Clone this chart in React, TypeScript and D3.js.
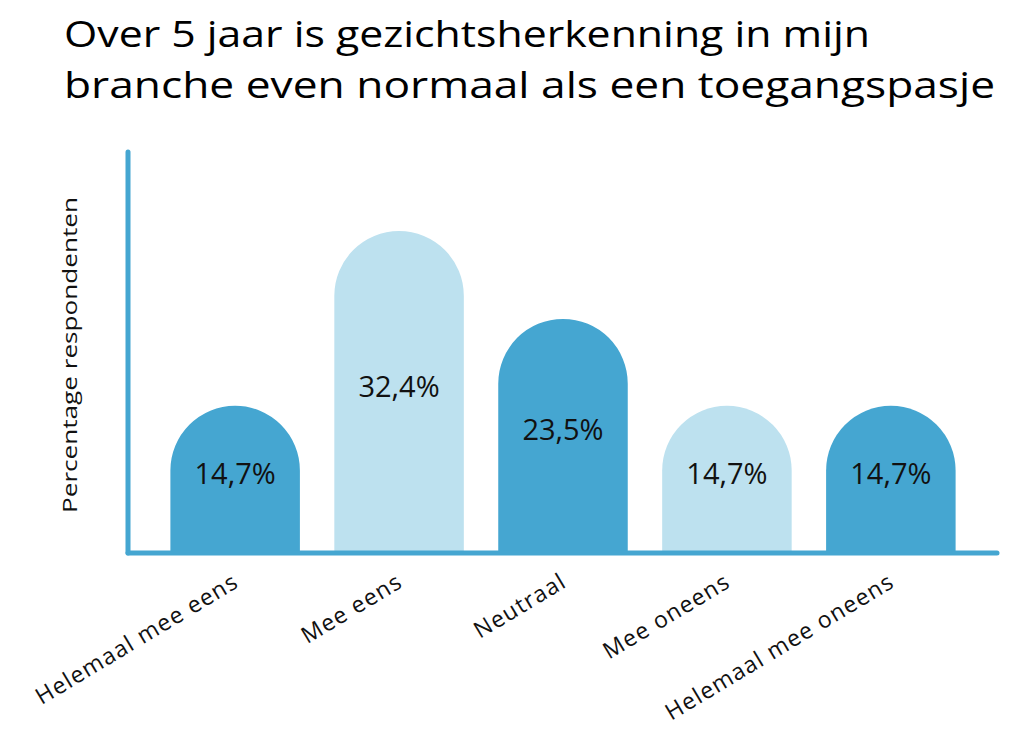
import React from "react";
import * as d3 from "d3";

const categories = ["Helemaal mee eens", "Mee eens", "Neutraal", "Mee oneens", "Helemaal mee oneens"];
const values = [14.7, 32.4, 23.5, 14.7, 14.7];
const valueLabels = ["14,7%", "32,4%", "23,5%", "14,7%", "14,7%"];
const barColors = ["#45A6D1", "#BDE1EF", "#45A6D1", "#BDE1EF", "#45A6D1"];
const titleLines = [
  "Over 5 jaar is gezichtsherkenning in mijn",
  "branche even normaal als een toegangspasje",
];
const yAxisTitle = "Percentage respondenten";

const W = 1024;
const H = 742;
const FONT = "'Open Sans', 'Noto Sans', sans-serif";

export default function App() {
  const axisX = 128;
  const axisY = 553;
  const axisRight = 997;
  const axisTop = 152;
  const baseY = 551;

  const x = d3.scaleBand<string>().domain(categories).range([154, 972]).paddingInner(0.21).paddingOuter(0.1);
  const y = d3.scaleLinear().domain([0, 40]).range([baseY, baseY - 395]);
  const bw = x.bandwidth();
  const r = bw / 2;

  const barPath = (cat: string, v: number) => {
    const x0 = x(cat)!;
    const top = y(v);
    const p = d3.path();
    p.moveTo(x0, baseY);
    p.lineTo(x0, top + r);
    p.arc(x0 + r, top + r, r, Math.PI, 0);
    p.lineTo(x0 + bw, baseY);
    p.closePath();
    return p.toString();
  };

  return (
    <svg width={W} height={H} style={{ display: "block", position: "absolute", left: 0, top: 0, background: "#fff" }}>
      <text x={64} y={47} fontFamily={FONT} fontSize={37} fill="#000" textLength={806} lengthAdjust="spacingAndGlyphs">
        {titleLines[0]}
      </text>
      <text x={64} y={98} fontFamily={FONT} fontSize={37} fill="#000" textLength={931} lengthAdjust="spacingAndGlyphs">
        {titleLines[1]}
      </text>

      {categories.map((c, i) => (
        <path key={c} d={barPath(c, values[i])} fill={barColors[i]} />
      ))}

      {categories.map((c, i) => (
        <text
          key={"v" + c}
          x={x(c)! + bw / 2}
          y={(y(values[i]) + baseY) / 2 - 6}
          textAnchor="middle"
          dominantBaseline="central"
          fontFamily={FONT}
          fontSize={29}
          fill="#111"
        >
          {valueLabels[i]}
        </text>
      ))}

      <line x1={axisX} y1={axisTop} x2={axisX} y2={axisY} stroke="#45A6D1" strokeWidth={5} strokeLinecap="round" />
      <line x1={axisX} y1={axisY} x2={axisRight} y2={axisY} stroke="#45A6D1" strokeWidth={5} strokeLinecap="round" />

      <text
        transform={`translate(77,355) rotate(-90)`}
        textAnchor="middle"
        fontFamily={FONT}
        fontSize={20}
        fill="#111"
        textLength={316}
        lengthAdjust="spacingAndGlyphs"
      >
        {yAxisTitle}
      </text>

      {categories.map((c) => (
        <text
          key={"c" + c}
          transform={`translate(${x(c)! + bw / 2 + 5},${586}) rotate(-31)`}
          textAnchor="end"
          fontFamily={FONT}
          fontSize={23}
          letterSpacing={1.2}
          fill="#111"
        >
          {c}
        </text>
      ))}
    </svg>
  );
}
